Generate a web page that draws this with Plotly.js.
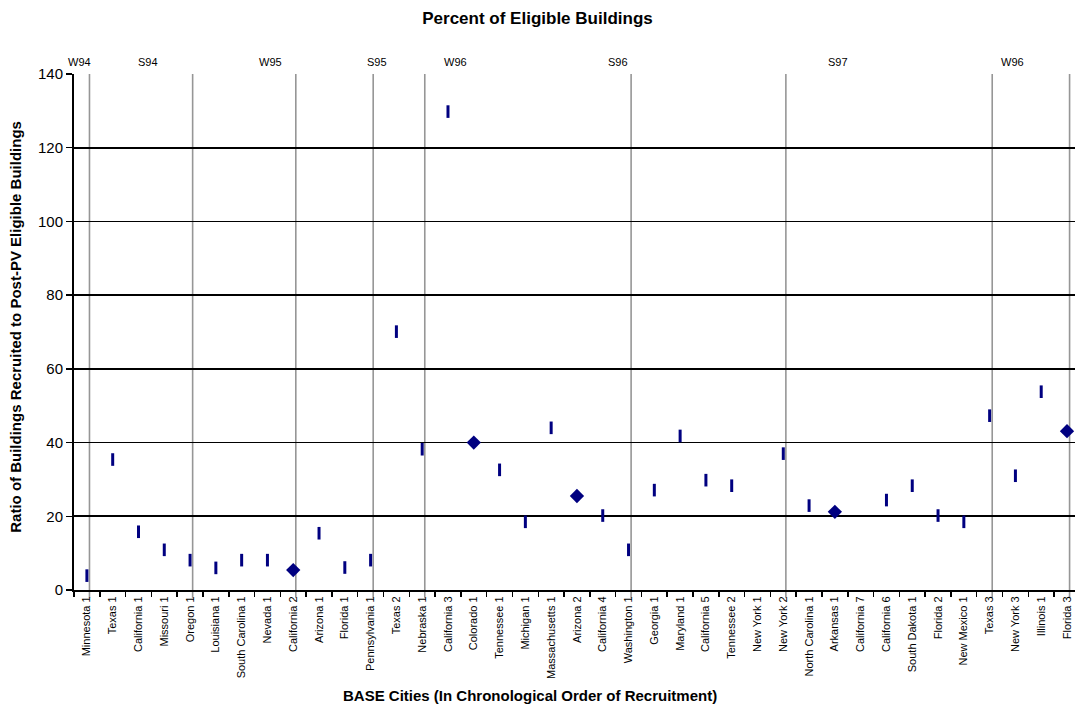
<!DOCTYPE html>
<html>
<head>
<meta charset="utf-8">
<script src="https://cdn.plot.ly/plotly-3.0.1.min.js"></script>
<style>
  html, body { margin: 0; padding: 0; background: #fff; overflow: hidden; }
  #chart { width: 1075px; height: 706px; }
</style>
</head>
<body>
<div id="chart"></div>
<script>
// ---- data ----
const categories = [
  'Minnesota 1','Texas 1','California 1','Missouri 1','Oregon 1','Louisiana 1',
  'South Carolina 1','Nevada 1','California 2','Arizona 1','Florida 1','Pennsylvania 1',
  'Texas 2','Nebraska 1','California 3','Colorado 1','Tennessee 1','Michigan 1',
  'Massachusetts 1','Arizona 2','California 4','Washington 1','Georgia 1','Maryland 1',
  'California 5','Tennessee 2','New York 1','New York 2','North Carolina 1','Arkansas 1',
  'California 7','California 6','South Dakota 1','Florida 2','New Mexico 1','Texas 3',
  'New York 3','Illinois 1','Florida 3'
];
// values drawn with the short vertical dash marker (null = none)
const dashValues = [
  3.9, 35.4, 15.8, 10.9, 8.1, 6.0,
  8.1, 8.1, null, 15.4, 6.1, 8.1,
  70.1, 38.2, 129.8, null, 32.6, 18.5,
  44.0, null, 20.2, 10.9, 27.1, 41.8,
  29.8, 28.3, null, 37.0, 22.9, null,
  null, 24.4, 28.3, 20.2, 18.5, 47.3,
  31.0, 53.8, null
];
// values drawn with the diamond marker
const diamondValues = [
  null, null, null, null, null, null,
  null, null, 5.4, null, null, null,
  null, null, null, 40.0, null, null,
  null, 25.5, null, null, null, null,
  null, null, null, null, null, 21.2,
  null, null, null, null, null, null,
  null, null, 43.1
];
// recruitment period separators (category where the separator falls)
const periodSeparators = ['Minnesota 1','Oregon 1','California 2','Pennsylvania 1','Nebraska 1',
  'Washington 1','New York 2','Texas 3','Florida 3'];
// period labels along the top
const periodLabels = ['W94','S94','W95','S95','W96','S96','S97','W96'];
const periodLabelPos = [-0.27, 2.37, 7.1, 11.25, 14.31, 20.59, 29.12, 35.9];
const yTicks = [0, 20, 40, 60, 80, 100, 120, 140];

// ---- chart ----
const FONT = 'Arial, "Liberation Sans", sans-serif';
const NAVY = '#000080';

const traces = [
  {
    type: 'scatter', mode: 'markers', x: categories, y: dashValues,
    marker: { symbol: 'line-ns', size: 9, color: NAVY, line: { color: NAVY, width: 3 } },
    hoverinfo: 'x+y', showlegend: false
  },
  {
    type: 'scatter', mode: 'markers', x: categories, y: diamondValues,
    marker: { symbol: 'diamond', size: 11, color: NAVY, line: { width: 0 } },
    hoverinfo: 'x+y', showlegend: false
  }
];

const shapes = periodSeparators.map(name => ({
  type: 'line', xref: 'x', yref: 'paper',
  x0: categories.indexOf(name) + 0.1, x1: categories.indexOf(name) + 0.1,
  y0: -0.015, y1: 1,
  line: { color: '#969696', width: 1.6 }, layer: 'below'
}));

const annotations = periodLabels.map((t, i) => ({
  text: t, xref: 'x', yref: 'paper', x: periodLabelPos[i], y: 1.023,
  xanchor: 'center', yanchor: 'middle', showarrow: false,
  font: { family: FONT, size: 11, color: '#000' }
}));
annotations.push({
  text: '<b>BASE Cities (In Chronological Order of Recruitment)</b>',
  xref: 'paper', yref: 'paper', x: 0.4555, y: -0.2035,
  xanchor: 'center', yanchor: 'middle', showarrow: false,
  font: { family: FONT, size: 15, color: '#000' }
});
annotations.push({
  text: '<b>Ratio of Buildings Recruited to Post-PV Eligible Buildings</b>',
  xref: 'paper', yref: 'paper', x: -0.058, y: 0.51, textangle: -90,
  xanchor: 'center', yanchor: 'middle', showarrow: false,
  font: { family: FONT, size: 15, color: '#000' }
});

const layout = {
  width: 1075, height: 706,
  paper_bgcolor: '#fff', plot_bgcolor: '#fff',
  margin: { l: 74, r: 0, t: 74, b: 116, pad: 0 },
  title: {
    text: '<b>Percent of Eligible Buildings</b>',
    x: 0.5, xref: 'container', y: 1 - 18 / 706, yref: 'container',
    xanchor: 'center', yanchor: 'middle',
    font: { family: FONT, size: 17, color: '#000' }
  },
  xaxis: {
    type: 'category', categoryorder: 'array', categoryarray: categories,
    range: [-0.5, 38.31], automargin: false,
    showgrid: false, zeroline: false,
    showline: true, linecolor: '#000', linewidth: 2,
    ticks: 'outside', tickson: 'boundaries', ticklen: 5, tickcolor: '#000', tickwidth: 1.5,
    tickangle: -90, tickfont: { family: FONT, size: 11, color: '#000' },
    fixedrange: true
  },
  yaxis: {
    range: [0, 140], tickvals: yTicks, automargin: false,
    showgrid: true, gridcolor: '#000', gridwidth: 1.6,
    zeroline: false, showline: true, linecolor: '#000', linewidth: 2,
    ticks: 'outside', ticklen: 6, tickcolor: '#000', tickwidth: 1.5,
    tickfont: { family: FONT, size: 15, color: '#000' },
    fixedrange: true
  },
  shapes: shapes,
  annotations: annotations,
  showlegend: false
};

Plotly.newPlot('chart', traces, layout, { displayModeBar: false, staticPlot: true });
</script>
</body>
</html>
